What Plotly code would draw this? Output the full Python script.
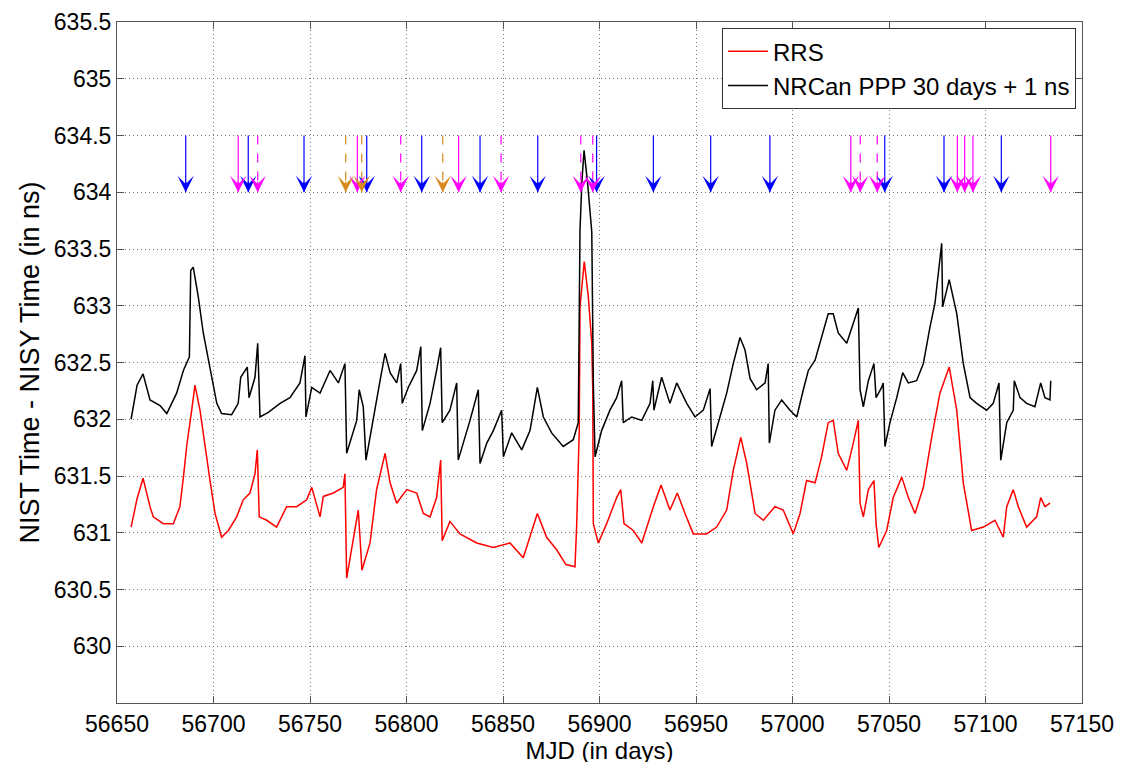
import plotly.graph_objects as go

# ---------------- data ----------------
rrs_mjd = [56657.3, 56660.4, 56663.5, 56667.1, 56668.8, 56674.0, 56679.2, 56682.6, 56684.4, 56686.1,
           56688.7, 56690.4, 56693.0, 56695.6, 56698.2, 56700.8, 56704.2, 56707.7, 56712.0, 56715.4,
           56718.9, 56721.5, 56722.7, 56723.7, 56727.6, 56732.7, 56737.9, 56743.1, 56748.3, 56750.9,
           56755.2, 56756.9, 56762.1, 56767.2, 56768.1, 56769.0, 56772.4, 56775.0, 56776.3, 56776.9,
           56781.1, 56784.5, 56788.9, 56791.5, 56794.9, 56800.1, 56805.3, 56808.7, 56812.2, 56815.6,
           56817.7, 56818.5, 56822.5, 56827.7, 56836.4, 56845.0, 56853.6, 56860.5, 56867.8, 56872.6,
           56877.8, 56882.6, 56887.3, 56888.2, 56889.5, 56889.9, 56892.1, 56894.2, 56896.0, 56896.5,
           56896.8, 56899.4, 56903.7, 56908.9, 56911.0, 56912.7, 56917.5, 56921.9, 56927.9, 56931.9,
           56936.5, 56940.3, 56944.3, 56948.6, 56955.5, 56960.7, 56965.9, 56969.3, 56973.2, 56976.3,
           56978.0, 56980.6, 56984.9, 56990.9, 56995.2, 57000.4, 57003.9, 57007.3, 57011.7, 57015.1,
           57018.5, 57021.1, 57023.7, 57028.1, 57031.5, 57034.1, 57035.0, 57036.7, 57039.3, 57042.2,
           57043.3, 57044.7, 57048.8, 57052.2, 57056.6, 57060.0, 57063.5, 57067.8, 57072.1, 57076.4,
           57081.2, 57085.1, 57088.5, 57092.8, 57098.9, 57104.9, 57109.2, 57111.0, 57114.4, 57117.0,
           57121.3, 57126.5, 57128.6, 57130.8, 57133.4]
rrs_ns = [631.05, 631.30, 631.48, 631.23, 631.14, 631.08, 631.08, 631.23, 631.49, 631.76,
          632.08, 632.30, 632.08, 631.76, 631.46, 631.17, 630.96, 631.02, 631.14, 631.29,
          631.35, 631.52, 631.73, 631.14, 631.11, 631.05, 631.23, 631.23, 631.29, 631.40,
          631.14, 631.32, 631.35, 631.40, 631.52, 630.60, 630.93, 631.20, 630.85, 630.67,
          630.91, 631.38, 631.70, 631.44, 631.26, 631.38, 631.35, 631.17, 631.14, 631.31,
          631.64, 630.93, 631.10, 630.99, 630.91, 630.87, 630.91, 630.78, 631.17, 630.96,
          630.85, 630.72, 630.70, 631.08, 631.90, 632.99, 633.39, 633.08, 632.67, 632.26,
          631.08, 630.91, 631.08, 631.31, 631.38, 631.08, 631.02, 630.91, 631.23, 631.42,
          631.20, 631.35, 631.17, 630.99, 630.99, 631.05, 631.20, 631.55, 631.84, 631.61,
          631.44, 631.17, 631.11, 631.23, 631.20, 630.99, 631.17, 631.46, 631.44, 631.67,
          631.97, 631.99, 631.70, 631.55, 631.79, 631.99, 631.26, 631.14, 631.38, 631.46,
          631.08, 630.87, 631.02, 631.31, 631.49, 631.31, 631.17, 631.40, 631.84, 632.23,
          632.46, 632.08, 631.44, 631.02, 631.05, 631.11, 630.96, 631.23, 631.38, 631.23,
          631.05, 631.14, 631.31, 631.23, 631.26]

ppp_mjd = [56657.3, 56660.4, 56663.5, 56667.1, 56672.3, 56675.8, 56680.9, 56684.4, 56687.5, 56688.2,
           56689.5, 56692.1, 56694.7, 56698.2, 56701.7, 56704.2, 56709.4, 56712.8, 56714.1, 56717.5,
           56718.4, 56721.5, 56722.9, 56724.1, 56728.4, 56734.5, 56739.6, 56744.8, 56747.4, 56747.9,
           56750.9, 56755.2, 56760.4, 56764.7, 56768.1, 56769.0, 56774.2, 56775.5, 56777.6, 56779.0,
           56782.8, 56786.3, 56788.9, 56791.5, 56794.9, 56797.0, 56797.8, 56800.9, 56805.3, 56807.4,
           56808.2, 56812.2, 56815.6, 56817.7, 56818.5, 56822.5, 56826.0, 56826.8, 56829.4, 56832.9,
           56837.2, 56838.1, 56841.6, 56845.0, 56849.3, 56850.2, 56854.5, 56859.7, 56864.0, 56867.8,
           56870.9, 56875.2, 56881.2, 56886.4, 56889.0, 56889.9, 56890.9, 56892.0, 56894.0, 56896.0,
           56896.8, 56897.7, 56901.1, 56905.4, 56908.9, 56911.5, 56912.3, 56916.7, 56921.9, 56926.2,
           56927.6, 56928.2, 56932.2, 56936.5, 56940.0, 56945.2, 56949.5, 56953.8, 56957.3, 56958.1,
           56962.4, 56965.9, 56969.3, 56972.8, 56975.4, 56978.0, 56981.4, 56985.8, 56987.4, 56988.0,
           56990.9, 56994.4, 56998.7, 57002.2, 57005.6, 57008.2, 57011.7, 57015.1, 57018.5, 57021.1,
           57023.7, 57028.1, 57031.5, 57034.1, 57035.0, 57036.7, 57039.3, 57042.2, 57043.3, 57046.2,
           57047.0, 57047.9, 57050.5, 57054.0, 57057.1, 57060.0, 57064.3, 57067.8, 57071.2, 57073.8,
           57077.3, 57077.8, 57081.2, 57085.1, 57088.5, 57092.0, 57095.4, 57100.6, 57104.0, 57107.0,
           57107.9, 57111.0, 57114.4, 57114.9, 57117.9, 57121.3, 57125.6, 57128.6, 57130.8, 57133.4,
           57133.8]
ppp_ns = [632.00, 632.30, 632.40, 632.17, 632.12, 632.05, 632.23, 632.43, 632.55, 633.31,
          633.34, 633.08, 632.76, 632.46, 632.14, 632.05, 632.04, 632.14, 632.37, 632.46,
          632.19, 632.37, 632.67, 632.02, 632.06, 632.14, 632.19, 632.32, 632.56, 632.02,
          632.28, 632.23, 632.43, 632.32, 632.49, 631.70, 631.99, 632.26, 632.11, 631.64,
          632.02, 632.34, 632.58, 632.41, 632.32, 632.49, 632.14, 632.28, 632.43, 632.64,
          631.90, 632.14, 632.43, 632.63, 631.97, 632.08, 632.32, 631.64, 631.79, 631.99,
          632.26, 631.61, 631.79, 631.90, 632.08, 631.67, 631.88, 631.73, 631.90, 632.28,
          632.02, 631.88, 631.76, 631.82, 631.97, 633.67, 634.10, 634.37, 634.05, 633.65,
          632.32, 631.67, 631.90, 632.08, 632.19, 632.34, 631.97, 632.02, 631.99, 632.14,
          632.34, 632.08, 632.37, 632.14, 632.32, 632.14, 632.02, 632.08, 632.27, 631.76,
          632.02, 632.23, 632.49, 632.72, 632.61, 632.36, 632.26, 632.32, 632.49, 631.79,
          632.08, 632.17, 632.08, 632.02, 632.26, 632.43, 632.52, 632.72, 632.93, 632.93,
          632.76, 632.67, 632.85, 632.98, 632.26, 632.11, 632.34, 632.49, 632.19, 632.28,
          632.32, 631.76, 631.97, 632.19, 632.41, 632.32, 632.34, 632.49, 632.81, 633.02,
          633.55, 632.99, 633.23, 632.93, 632.49, 632.19, 632.14, 632.08, 632.14, 632.32,
          631.64, 631.97, 632.08, 632.34, 632.19, 632.14, 632.11, 632.32, 632.19, 632.17,
          632.34]

# event arrows (MJD)
blue_solid = [56685.6, 56718.0, 56746.9, 56779.4, 56807.9, 56838.1, 56868.0, 56898.5, 56927.9,
              56957.6, 56988.3, 57047.8, 57078.5, 57108.2]
magenta_solid = [56712.8, 56774.5, 56827.0, 57030.2, 57085.4, 57089.2, 57093.5, 57133.8]
magenta_dashed = [56722.9, 56797.0, 56849.0, 56890.3, 56896.5, 57035.1, 57043.9]
orange_dashed = [56768.5, 56776.8, 56818.8]
ARROW_TOP = 634.5
ARROW_TIP = 634.0

x_ticks = list(range(56650, 57151, 50))
y_ticks = [630 + 0.5 * i for i in range(12)]

# ---------------- figure ----------------
FONT = "Liberation Sans, Arial, sans-serif"
fig = go.Figure()

fig.add_trace(go.Scatter(x=rrs_mjd, y=rrs_ns, mode="lines", name="RRS",
                         line=dict(color="#FF0000", width=1.5)))
fig.add_trace(go.Scatter(x=ppp_mjd, y=ppp_ns, mode="lines", name="NRCan PPP 30 days + 1 ns",
                         line=dict(color="#000000", width=1.5)))

annotations = []
for xs, color, dash in [(blue_solid, "#0000FF", "solid"),
                        (magenta_solid, "#FF00FF", "solid"),
                        (magenta_dashed, "#FF00FF", "dash"),
                        (orange_dashed, "#D98A1E", "dash")]:
    sx, sy = [], []
    for v in xs:
        sx += [v, v, None]
        sy += [ARROW_TOP, ARROW_TIP, None]
        annotations.append(dict(x=v, y=ARROW_TIP, xref="x", yref="y", ax=0, ay=-12,
                                showarrow=True, arrowhead=3, arrowsize=2.1, arrowwidth=1.3,
                                arrowcolor=color, standoff=0, text=""))
    fig.add_trace(go.Scatter(x=sx, y=sy, mode="lines", showlegend=False, hoverinfo="skip",
                             line=dict(color=color, width=1.2, dash=dash)))

axis_common = dict(showline=True, linecolor="#555555", linewidth=1, mirror="ticks",
                   ticks="inside", ticklen=7, tickcolor="#555555",
                   showgrid=True, gridcolor="#777777", griddash="1px,3px", gridwidth=1,
                   zeroline=False, automargin=False,
                   tickfont=dict(family=FONT, size=23, color="#000000"))

fig.update_xaxes(range=[56650, 57150], tickvals=x_ticks, ticktext=[str(t) for t in x_ticks],
                 title=dict(text="MJD (in days)", font=dict(family=FONT, size=24, color="#000"),
                            standoff=0),
                 **axis_common)
fig.update_yaxes(range=[629.5, 635.5], tickvals=y_ticks,
                 ticktext=[("%g" % t) for t in y_ticks],
                 title=dict(text="NIST Time - NISY Time (in ns)",
                            font=dict(family=FONT, size=27, color="#000"), standoff=6),
                 **axis_common)

# the page body adds an 8px offset, so margins are shifted to compensate
fig.update_layout(
    width=1125, height=762,
    margin=dict(l=109, r=51, t=14, b=67),
    paper_bgcolor="white", plot_bgcolor="white",
    annotations=annotations,
    showlegend=True,
    legend=dict(x=0.9938, y=0.991, xanchor="right", yanchor="top",
                bgcolor="white", bordercolor="#333333", borderwidth=1,
                font=dict(family=FONT, size=24, color="#000"),
                itemwidth=40, tracegroupgap=0),
)

fig.write_html("out.html")
